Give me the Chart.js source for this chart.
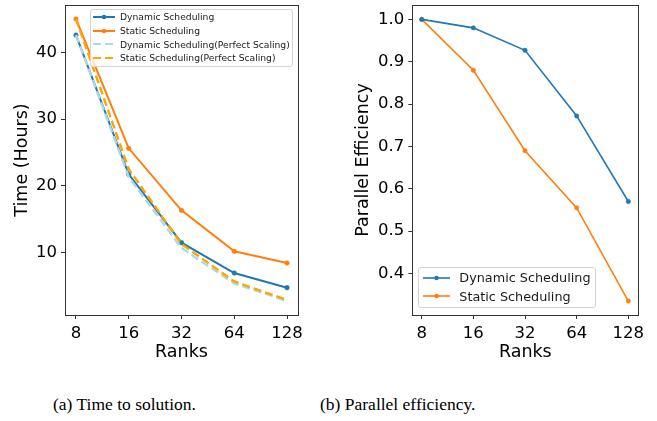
<!DOCTYPE html>
<html><head><meta charset="utf-8">
<script src="https://cdn.jsdelivr.net/npm/chart.js@4.4.0/dist/chart.umd.min.js"></script>
<style>
body{margin:0;background:#fff;width:657px;height:421px;overflow:hidden;position:relative;font-family:"DejaVu Sans";}
.c{position:absolute;top:0;}
.legend{position:absolute;border:1px solid #d5d5d5;border-radius:3px;background:rgba(255,255,255,0.8);box-sizing:border-box;color:#1a1a1a}
.row{display:flex;align-items:center;white-space:nowrap}
.cap{position:absolute;font-family:"Liberation Serif";font-size:17.5px;color:#000;white-space:nowrap;line-height:20px}
</style></head><body>
<canvas id="a" class="c" width="330" height="370" style="left:0"></canvas>
<canvas id="b" class="c" width="327" height="370" style="left:330px"></canvas>
<div id="legA" class="legend" style="left:90px;top:9px;width:203px;height:58px;font-size:9.2px;padding-left:2px"></div>
<div id="legB" class="legend" style="left:417.7px;top:267.3px;width:178.3px;height:41px;font-size:12.8px;padding-left:4px"></div>
<div class="cap" style="left:53px;top:394px">(a) Time to solution.</div>
<div class="cap" style="left:320px;top:394px">(b) Parallel efficiency.</div>
<script>
const ranks = [8, 16, 32, 64, 128];
const timeDynamic = [42.6, 21.7, 11.45, 6.9, 4.7];
const timeStatic = [45.0, 25.6, 16.3, 10.15, 8.4];
const timeDynamicPerfect = [42.6, 21.3, 10.65, 5.33, 2.7];
const timeStaticPerfect = [45.0, 22.5, 11.25, 5.63, 2.85];
const effDynamic = [1.0, 0.98, 0.927, 0.772, 0.57];
const effStatic = [1.0, 0.88, 0.69, 0.555, 0.335];
const timeTicks = [10, 20, 30, 40];
const effTicks = [0.4, 0.5, 0.6, 0.7, 0.8, 0.9, 1.0];

const F = "DejaVu Sans";
const BLUE = '#1f77b4', ORANGE = '#ff7f0e', LBLUE = '#add8e6', GOLD = '#ffa500';
const AX = '#333333';

const frame = {
  id: 'frame',
  afterDatasetsDraw(c) {
    const a = c.chartArea, ctx = c.ctx;
    ctx.save();
    ctx.strokeStyle = AX; ctx.lineWidth = 1;
    ctx.strokeRect(Math.round(a.left) + 0.5, Math.round(a.top) + 0.5, Math.round(a.right - a.left), Math.round(a.bottom - a.top));
    ctx.restore();
  }
};

function ds(label, data, color, extra) {
  return Object.assign({
    label, data: ranks.map((r, i) => ({x: r, y: data[i]})),
    borderColor: color, backgroundColor: color,
    pointBackgroundColor: color, pointBorderColor: color,
    borderWidth: 2, pointRadius: 2.3, pointBorderWidth: 0.5, pointHoverRadius: 0,
    tension: 0, clip: false
  }, extra || {});
}

function xScale(lo, hi) {
  return {
    type: 'logarithmic', min: 8 * Math.pow(2, -lo), max: 128 * Math.pow(2, hi),
    afterBuildTicks: s => { s.ticks = ranks.map(v => ({value: v})); },
    ticks: {callback: v => String(v), autoSkip: false, maxRotation: 0, minRotation: 0, padding: 5, color: '#000', font: {family: F, size: 16.5}},
    grid: {drawOnChartArea: false, drawTicks: true, tickLength: 4, color: AX, lineWidth: 1},
    border: {display: false},
    title: {display: true, text: 'Ranks', color: '#000', font: {family: F, size: 17.5}, padding: {top: 0, bottom: 7.5}},
    afterFit: s => { s.height = 55; s.paddingLeft = 0; s.paddingRight = 0; }
  };
}
function yScale(min, max, tickVals, fmt, title, w, tpad) {
  return {
    type: 'linear', min, max,
    afterBuildTicks: s => { s.ticks = tickVals.map(v => ({value: v})); },
    ticks: {callback: fmt, padding: 4, color: '#000', font: {family: F, size: 16.5}},
    grid: {drawOnChartArea: false, drawTicks: true, tickLength: 4, color: AX, lineWidth: 1},
    border: {display: false},
    title: {display: true, text: title, color: '#000', font: {family: F, size: 17.5}, padding: {top: tpad, bottom: 0}},
    afterFit: s => { s.width = w; s.paddingTop = 0; s.paddingBottom = 0; }
  };
}

new Chart(document.getElementById('a'), {
  type: 'line',
  data: {datasets: [
    ds('Static Scheduling(Perfect Scaling)', timeStaticPerfect, GOLD, {borderDash: [8, 4], borderWidth: 2.4, pointRadius: 0, order: 1}),
    ds('Dynamic Scheduling(Perfect Scaling)', timeDynamicPerfect, LBLUE, {borderDash: [8, 4], borderWidth: 2.4, pointRadius: 0, order: 2}),
    ds('Static Scheduling', timeStatic, ORANGE, {order: 3}),
    ds('Dynamic Scheduling', timeDynamic, BLUE, {order: 4})
  ]},
  options: {
    responsive: false, animation: false, events: [],
    layout: {padding: {left: 0, right: 32, top: 5, bottom: 0}},
    plugins: {legend: {display: false}, tooltip: {enabled: false}},
    scales: {
      x: xScale(0.208, 0.208),
      y: yScale(0.6, 47.1, timeTicks, v => String(v), 'Time (Hours)', 65, 11.5)
    }
  },
  plugins: [frame]
});

new Chart(document.getElementById('b'), {
  type: 'line',
  data: {datasets: [
    ds('Dynamic Scheduling', effDynamic, BLUE, {borderWidth: 1.6, pointRadius: 2.2}),
    ds('Static Scheduling', effStatic, ORANGE, {borderWidth: 1.6, pointRadius: 2.2})
  ]},
  options: {
    responsive: false, animation: false, events: [],
    layout: {padding: {left: 0, right: 18.7, top: 5, bottom: 0}},
    plugins: {legend: {display: false}, tooltip: {enabled: false}},
    scales: {
      x: xScale(0.182, 0.193),
      y: yScale(0.302, 1.034, effTicks, v => Number(v).toFixed(1), 'Parallel Efficiency', 82.3, 23)
    }
  },
  plugins: [frame]
});

function sample(w, color, dash, dot, lw) {
  return `<svg width="${w}" height="8" style="flex:none;display:block"><line x1="0" y1="4" x2="${w}" y2="4" stroke="${color}" stroke-width="${lw}" ${dash ? 'stroke-dasharray="8,4"' : ''}/>` +
    (dot ? `<circle cx="${w / 2}" cy="4" r="2.3" fill="${color}"/>` : '') + `</svg>`;
}
const legA = [
  ['Dynamic Scheduling', BLUE, false, true],
  ['Static Scheduling', ORANGE, false, true],
  ['Dynamic Scheduling(Perfect Scaling)', LBLUE, true, false],
  ['Static Scheduling(Perfect Scaling)', GOLD, true, false]
];
document.getElementById('legA').innerHTML = legA.map(e =>
  `<div class="row" style="height:13.7px">${sample(22, e[1], e[2], e[3], 2)}<span style="margin-left:5px">${e[0]}</span></div>`).join('');
const legB = [
  ['Dynamic Scheduling', BLUE],
  ['Static Scheduling', ORANGE]
];
document.getElementById('legB').innerHTML = legB.map(e =>
  `<div class="row" style="height:18.7px">${sample(27, e[1], false, true, 1.6)}<span style="margin-left:9.6px">${e[0]}</span></div>`).join('');
</script>
</body></html>
